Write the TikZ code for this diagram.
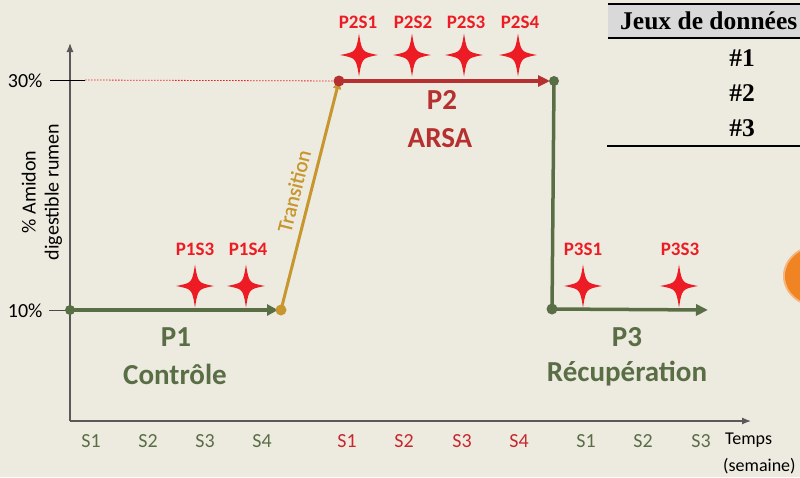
\documentclass[tikz,border=0pt]{standalone}
\usepackage{fontspec}
\setmainfont{Carlito}
\newfontfamily\tabfont{Liberation Serif}
\usetikzlibrary{arrows.meta}
\definecolor{bgc}{HTML}{EDEBE0}
\definecolor{olivec}{HTML}{5A6E46}
\definecolor{darkred}{HTML}{B5302E}
\definecolor{starred}{HTML}{ED1C24}
\definecolor{goldc}{HTML}{C8962E}
\definecolor{axisred}{HTML}{C8282D}
\definecolor{orangec}{HTML}{F08422}
\definecolor{headgray}{HTML}{D9D9D9}
\tikzset{
  fs/.style={font=\fontsize{#1}{24}\selectfont},
  ticklab/.style={font=\fontsize{20}{24}\selectfont},
  sparklab/.style={text=starred,font=\fontsize{19}{23}\selectfont\bfseries},
  biglab/.style={font=\fontsize{29}{35}\selectfont\bfseries},
  tabtxt/.style={font=\fontsize{25.5}{30}\selectfont\tabfont\bfseries},
  spark/.pic={\fill[starred] (0,-21.5) .. controls (3,-3) .. (19,0) .. controls (3,3) .. (0,21.5) .. controls (-3,3) .. (-19,0) .. controls (-3,-3) .. (0,-21.5) -- cycle;},
  axisline/.style={draw=black!65,line width=1.2pt},
}
\begin{document}
\begin{tikzpicture}[x=1pt,y=-1pt]
\useasboundingbox (0,0) rectangle (800,477);
\clip (0,0) rectangle (800,477);
\fill[bgc] (0,0) rectangle (800,477);

% orange shape at the right edge
\fill[orangec!60!white] (818,276) ellipse [x radius=35, y radius=31];
\fill[orangec] (818,276) ellipse [x radius=33, y radius=29];

% axes
\coordinate (O) at (70,421);
\coordinate (ytop) at (70,43);
\coordinate (xend) at (751,421);
\draw[axisline,-{Latex[length=9pt,width=7pt]}] (O) -- (ytop);
\draw[axisline,-{Latex[length=9pt,width=7pt]}] (O) -- (xend);

% ticks
\coordinate (t30a) at (50,80);
\coordinate (t30b) at (85,80);
\coordinate (t10a) at (49,310);
\coordinate (t10b) at (70,310);
\draw[black,line width=1pt] (t30a) -- (t30b);
\draw[black!70,line width=1pt] (t10a) -- (t10b);
\node[ticklab,anchor=east] (l30) at (46,81) {30\%};
\node[ticklab,anchor=east] (l10) at (46,311) {10\%};

% y label
\node[ticklab,rotate=90,align=center,inner sep=0pt] (ylab) at (42,192) {\%~Amidon\\[-1pt]digestible rumen};

% key points
\coordinate (a) at (70,310);
\coordinate (b) at (281,310);
\coordinate (c) at (339,81);
\coordinate (d) at (554,81);
\coordinate (e) at (552,309);
\coordinate (f) at (708,310);

% dotted red reference
\draw[starred,line width=0.8pt,dash pattern=on 1.5pt off 1.5pt] (t30b) -- (c);

% P1 arrow
\draw[olivec,line width=3.5pt,-{Triangle[length=11pt,width=11pt]}] (a) -- ([xshift=-3pt]b);
% transition
\draw[goldc,line width=3pt,-{Triangle[length=8pt,width=8pt]}] (b) -- (c);
\node[text=goldc,fs=21,rotate=76,inner sep=0pt] (trans) at (294,191) {\addfontfeatures{FakeBold=0.6}Transition};
% P2 arrow
\draw[darkred,line width=3.5pt,-{Triangle[length=12pt,width=11pt]}] (c) -- ([xshift=-4pt]d);
% drop
\draw[olivec,line width=3.5pt,-{Triangle[length=8pt,width=8pt]}] (d) -- ([yshift=-5pt]e);
% P3 arrow
\draw[olivec,line width=3.5pt,-{Triangle[length=12pt,width=11pt]}] (e) -- (f);

% dots
\fill[olivec] (a) circle (5);
\fill[goldc] (b) circle (5.5);
\fill[darkred] (c) circle (5.5);
\fill[olivec] (d) circle (5);
\fill[olivec] (e) circle (5.5);

% sparks
\pic at (195,286) {spark};
\pic at (246,286) {spark};
\pic at (359,55) {spark};
\pic at (412,55) {spark};
\pic at (464,55) {spark};
\pic at (518,55) {spark};
\pic at (583,286) {spark};
\pic at (679,286) {spark};
\node[sparklab] (s13) at (195,249) {P1S3};
\node[sparklab] (s14) at (248,249) {P1S4};
\node[sparklab] (s21) at (358,22) {P2S1};
\node[sparklab] (s22) at (413,22) {P2S2};
\node[sparklab] (s23) at (466,22) {P2S3};
\node[sparklab] (s24) at (520,22) {P2S4};
\node[sparklab] (s31) at (583,249) {P3S1};
\node[sparklab] (s33) at (680,249) {P3S3};

% big labels
\node[biglab,text=olivec] (p1) at (176,337) {P1};
\node[biglab,text=olivec] (p1b) at (175,374) {Contrôle};
\node[biglab,text=darkred] (p2) at (442,100) {P2};
\node[biglab,text=darkred] (p2b) at (440,138) {ARSA};
\node[biglab,text=olivec] (p3) at (627,337) {P3};
\node[biglab,text=olivec] (p3b) at (627,374) {Récupération};

% week labels
\foreach \x/\t [count=\i] in {91/S1,148/S2,205/S3,262/S4}
  \node[ticklab,text=olivec] (wa\i) at (\x,441) {\t};
\foreach \x/\t [count=\i] in {347/S1,404/S2,462/S3,519/S4}
  \node[ticklab,text=axisred] (wb\i) at (\x,441) {\t};
\foreach \x/\t [count=\i] in {586/S1,643/S2,701/S3}
  \node[ticklab,text=olivec] (wc\i) at (\x,441) {\t};
\node[fs=18,anchor=west,inner sep=0pt] (temps) at (725,440) {Temps};
\node[fs=18,anchor=west,inner sep=0pt] (sem) at (723,466) {(semaine)};

% table
\fill[headgray] (608,4) rectangle (800,38);
\draw[black,line width=2pt] (608,4) -- (800,4);
\draw[black,line width=2pt] (608,38) -- (800,38);
\draw[black,line width=2pt] (607,146) -- (800,146);
\node[tabtxt,anchor=west,inner sep=0pt] (th) at (620,21) {Jeux de données};
\node[tabtxt] (r1) at (742,58) {\#1};
\node[tabtxt] (r2) at (742,93) {\#2};
\node[tabtxt] (r3) at (742,128) {\#3};
\end{tikzpicture}
\end{document}
